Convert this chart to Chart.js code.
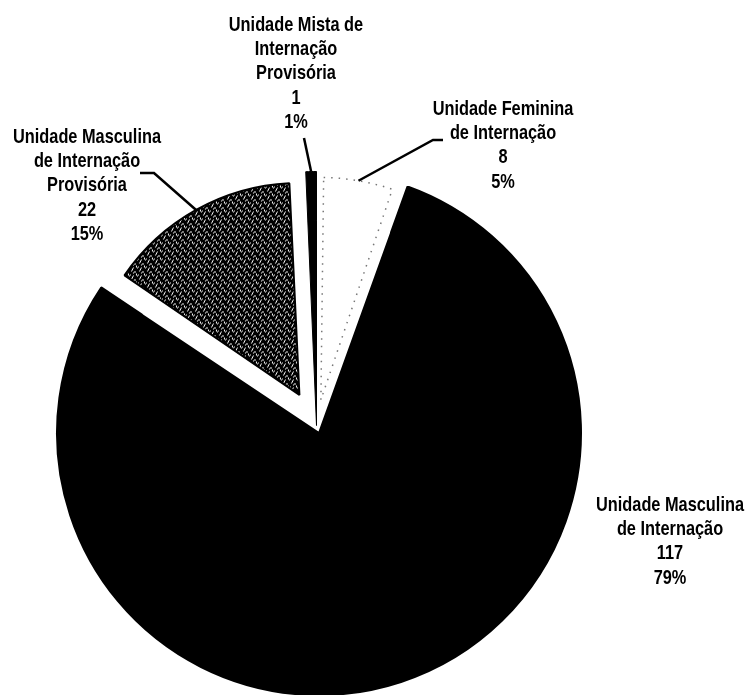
<!DOCTYPE html>
<html>
<head>
<meta charset="utf-8">
<script src="https://cdn.jsdelivr.net/npm/chart.js@4.4.0/dist/chart.umd.min.js"></script>
<style>
  html, body { margin: 0; padding: 0; background: #fff; }
  #wrap { width: 747px; height: 695px; }
</style>
</head>
<body>
<div id="wrap"><canvas id="pizza"></canvas></div>
<script>
// dados do gráfico
const unidades = [
    'Unidade Feminina de Internação',
    'Unidade Masculina de Internação',
    'Unidade Masculina de Internação Provisória',
    'Unidade Mista de Internação Provisória'
];
const quantidades = [8, 117, 22, 1];
// quebra de linha dos rótulos
const rotulos = [
    ['Unidade Feminina', 'de Internação'],
    ['Unidade Masculina', 'de Internação'],
    ['Unidade Masculina', 'de Internação', 'Provisória'],
    ['Unidade Mista de', 'Internação', 'Provisória']
];

// posição dos rótulos e das linhas de chamada (px); anel = dataset de onde sai a linha
const posRotulo = [
    { x: 503, y: 109, anel: 1, linha: [[443, 140], [433, 140]] },
    { x: 670, y: 505, anel: 0, linha: null },
    { x: 87, y: 137, anel: 1, linha: [[140, 173], [154, 173]] },
    { x: 296, y: 25, anel: 0, linha: [[304, 138]] }
];
const FONTE = "'Liberation Sans', Arial, sans-serif";
const vazio = 'rgba(0,0,0,0)';

// textura pontilhada da fatia provisória
function hachura() {
    const c = document.createElement('canvas');
    c.width = 8;
    c.height = 8;
    const g = c.getContext('2d');
    g.fillStyle = '#000';
    g.fillRect(0, 0, 8, 8);
    g.fillStyle = '#fff';
    const pts = [[1, 0], [1, 1], [2, 2], [5, 3], [5, 4], [4, 5], [0, 6], [7, 6], [6, 7], [3, 1], [6, 2]];
    pts.forEach(p => g.fillRect(p[0], p[1], 1, 1));
    return g.createPattern(c, 'repeat');
}

const rotulosPlugin = {
    id: 'rotulos',
    afterDatasetsDraw(chart) {
        const ctx = chart.ctx;
        const total = quantidades.reduce((a, b) => a + b, 0);
        ctx.save();
        ctx.font = 'bold 21px ' + FONTE;
        const sx = 148 / ctx.measureText('Unidade Masculina').width;
        ctx.fillStyle = '#000';
        ctx.strokeStyle = '#000';
        ctx.lineWidth = 2.5;
        ctx.textAlign = 'center';
        ctx.textBaseline = 'middle';
        posRotulo.forEach((p, i) => {
            const linhas = rotulos[i].concat([String(quantidades[i]), Math.round(quantidades[i] / total * 100) + '%']);
            linhas.forEach((t, k) => {
                ctx.save();
                ctx.translate(p.x, p.y + k * 24.3);
                ctx.scale(sx, 1);
                ctx.fillText(t, 0, 0);
                ctx.restore();
            });
            if (p.linha) {
                const arc = chart.getDatasetMeta(p.anel).data[i];
                const off = (arc.options.offset || 0) / 4;
                const meio = (arc.startAngle + arc.endAngle) / 2;
                const fix = 1 - Math.sin(Math.min(Math.PI, arc.endAngle - arc.startAngle));
                const r = off + arc.outerRadius + off * fix;
                ctx.beginPath();
                ctx.moveTo(p.linha[0][0], p.linha[0][1]);
                p.linha.slice(1).forEach(q => ctx.lineTo(q[0], q[1]));
                ctx.lineTo(arc.x + Math.cos(meio) * r, arc.y + Math.sin(meio) * r);
                ctx.stroke();
            }
        });
        ctx.restore();
    }
};

new Chart(document.getElementById('pizza'), {
    type: 'pie',
    data: {
        labels: unidades,
        datasets: [{
            // anel externo: só a fatia maior e a mista chegam até a borda
            data: quantidades,
            weight: 49,
            backgroundColor: [vazio, '#000', vazio, '#000'],
            borderColor: [vazio, '#000', vazio, '#000'],
            borderWidth: [0, 2, 0, 1],
            offset: [0, 32, 0, 0]
        }, {
            data: quantidades,
            weight: 205,
            backgroundColor: ['#fff', '#000', hachura(), '#000'],
            borderColor: ['#777', '#000', '#000', '#000'],
            borderWidth: [1.5, 2, 2, 1],
            borderDash: ctx => ctx.dataIndex === 0 ? [1.5, 6] : [],
            offset: [104, 32, 140, 0]
        }]
    },
    options: {
        responsive: true,
        maintainAspectRatio: false,
        animation: false,
        events: [],
        radius: 254,
        rotation: 0,
        layout: { padding: { left: 0, right: 114, top: 156, bottom: 0 } },
        plugins: {
            legend: { display: false },
            tooltip: { enabled: false }
        }
    },
    plugins: [rotulosPlugin]
});
</script>
</body>
</html>
